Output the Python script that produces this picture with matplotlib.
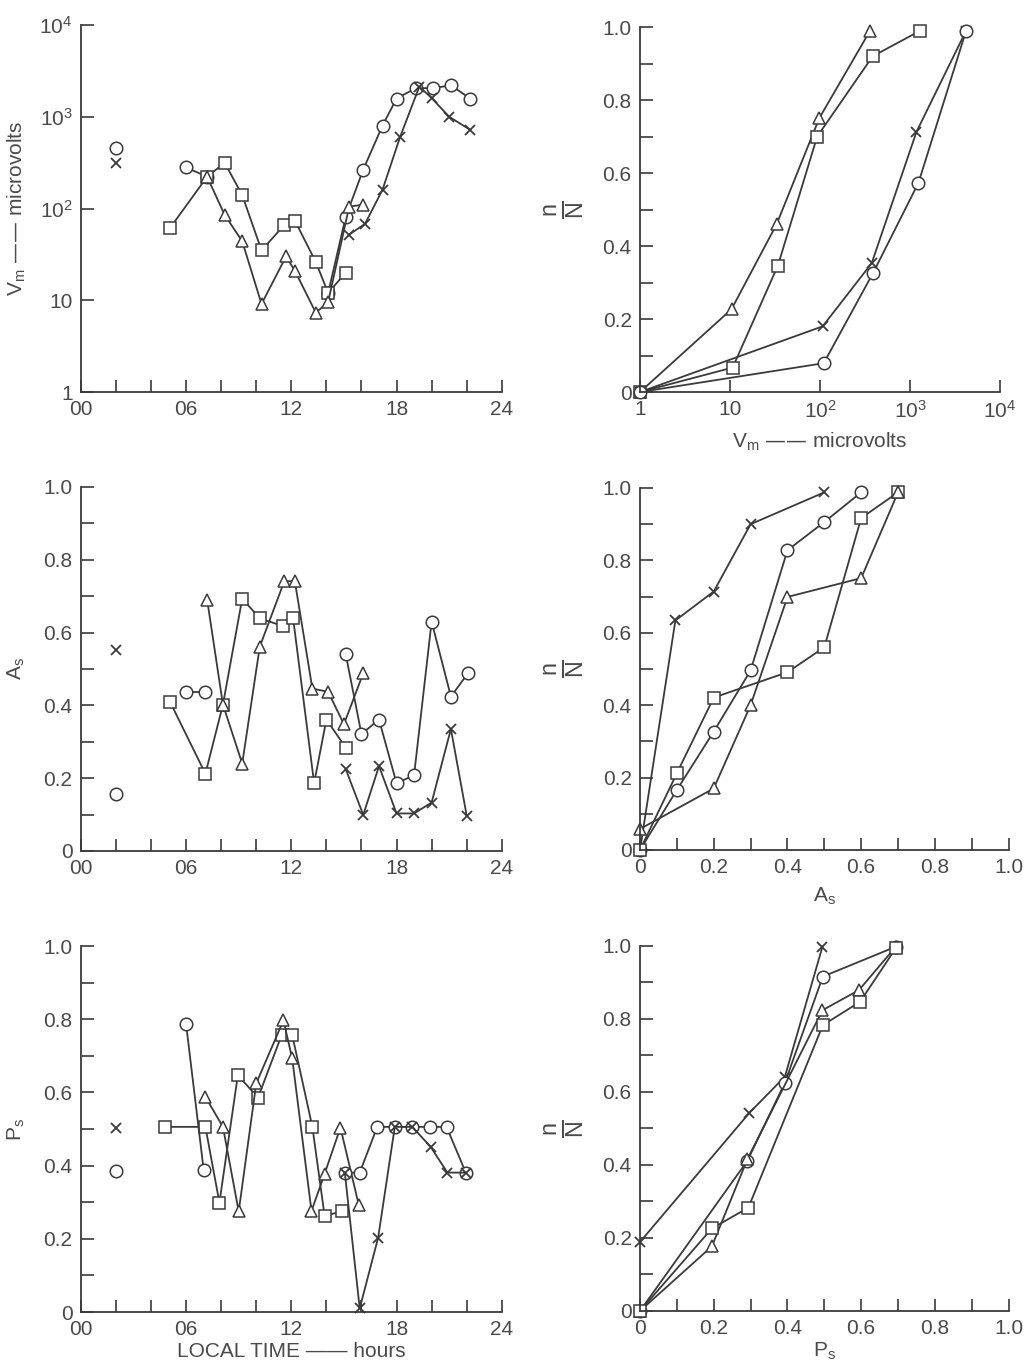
import numpy as np
import matplotlib
matplotlib.use("Agg")
import matplotlib.pyplot as plt

plt.rcParams['font.family'] = ['Liberation Sans', 'DejaVu Sans']
plt.rcParams['mathtext.default'] = 'regular'

INK = '#3a3a3a'
TXT = '#4a4a4a'

# ---------------- data: V_m vs local time ----------------
vm_sq_t = [5.1, 7.2, 8.2, 9.2, 10.3, 11.6, 12.2, 13.4, 14.1, 15.1]
vm_sq = [62, 222, 315, 140, 35, 66, 74, 26, 12, 20]
vm_tri_t = [7.2, 8.2, 9.2, 10.3, 11.7, 12.2, 13.4, 14.1, 15.3, 16.1]
vm_tri = [222, 85, 44, 9.1, 30, 21, 7.3, 9.6, 105, 110]
vm_ci_t1 = [6.0, 7.2]
vm_ci1 = [280, 222]
vm_ci_t2 = [14.1, 15.1, 16.1, 17.2, 18.0, 19.1, 20.1, 21.1, 22.2]
vm_ci2 = [12, 81, 265, 800, 1580, 2050, 2050, 2200, 1580]
vm_x_t = [15.3, 16.2, 17.2, 18.2, 19.3, 20.0, 21.0, 22.2]
vm_x = [52, 68, 160, 600, 2130, 1600, 1000, 720]
vm_iso_ci, vm_iso_x = 460, 315

# cumulative n/N vs V_m
cv_tri_x = [1, 10.4, 33, 98, 360]
cv_tri_y = [0, 0.227, 0.46, 0.75, 0.99]
cv_sq_x = [1, 10.7, 34, 93, 385, 1300]
cv_sq_y = [0, 0.067, 0.346, 0.70, 0.92, 0.99]
cv_x_x = [1, 107, 375, 1180, 4200]
cv_x_y = [0, 0.18, 0.353, 0.713, 0.99]
cv_ci_x = [1, 110, 390, 1240, 4200]
cv_ci_y = [0, 0.079, 0.327, 0.573, 0.99]

# ---------------- data: A_s vs local time ----------------
as_sq_t = [5.1, 7.1, 8.1, 9.2, 10.2, 11.5, 12.1, 13.3, 14.0, 15.1]
as_sq = [0.408, 0.212, 0.402, 0.693, 0.639, 0.618, 0.640, 0.186, 0.361, 0.284]
as_tri_t = [7.2, 8.1, 9.2, 10.2, 11.6, 12.2, 13.2, 14.1, 15.0, 16.1]
as_tri = [0.69, 0.402, 0.24, 0.561, 0.741, 0.741, 0.446, 0.437, 0.348, 0.488]
as_ci_t1 = [6.0, 7.1]
as_ci1 = [0.437, 0.437]
as_ci_t2 = [15.1, 16.0, 17.0, 18.0, 19.0, 20.0, 21.1, 22.1]
as_ci2 = [0.541, 0.321, 0.361, 0.186, 0.208, 0.63, 0.424, 0.49]
as_x_t = [15.1, 16.1, 17.0, 18.0, 19.0, 20.0, 21.1, 22.0]
as_x = [0.225, 0.099, 0.233, 0.103, 0.103, 0.133, 0.335, 0.097]
as_iso_ci, as_iso_x = 0.156, 0.552

# cumulative n/N vs A_s
ca_x_x = [0, 0.096, 0.2, 0.3, 0.5]
ca_x_y = [0, 0.634, 0.714, 0.90, 0.988]
ca_ci_x = [0, 0.1, 0.2, 0.3, 0.4, 0.5, 0.6]
ca_ci_y = [0, 0.166, 0.327, 0.496, 0.828, 0.906, 0.988]
ca_sq_x = [0, 0.1, 0.2, 0.4, 0.5, 0.6, 0.7]
ca_sq_y = [0, 0.212, 0.421, 0.491, 0.56, 0.917, 0.988]
ca_tri_x = [0, 0.2, 0.3, 0.4, 0.6, 0.7]
ca_tri_y = [0.058, 0.17, 0.40, 0.699, 0.751, 0.988]

# ---------------- data: P_s vs local time ----------------
ps_sq_t = [4.8, 7.1, 7.9, 8.95, 10.1, 11.45, 12.05, 13.2, 13.9, 14.9]
ps_sq = [0.506, 0.506, 0.299, 0.647, 0.586, 0.757, 0.757, 0.506, 0.262, 0.276]
ps_tri_t = [7.1, 8.1, 9.0, 10.0, 11.55, 12.05, 13.15, 13.9, 14.8, 15.85]
ps_tri = [0.588, 0.506, 0.275, 0.625, 0.797, 0.693, 0.276, 0.378, 0.504, 0.292]
ps_ci_t1 = [6.0, 7.0]
ps_ci1 = [0.786, 0.389]
ps_ci_t2 = [15.05, 15.9, 16.9, 17.9, 18.9, 19.9, 20.85, 21.95]
ps_ci2 = [0.381, 0.381, 0.506, 0.506, 0.506, 0.506, 0.506, 0.381]
ps_x_t = [15.05, 15.9, 16.95, 17.9, 18.9, 19.95, 20.9, 21.95]
ps_x = [0.381, 0.01, 0.203, 0.506, 0.506, 0.451, 0.381, 0.381]
ps_iso_ci, ps_iso_x = 0.386, 0.504

# cumulative n/N vs P_s
cp_x_x = [0, 0.297, 0.393, 0.495]
cp_x_y = [0.189, 0.543, 0.642, 0.998]
cp_ci_x = [0, 0.291, 0.393, 0.496, 0.694]
cp_ci_y = [0, 0.411, 0.625, 0.916, 0.998]
cp_tri_x = [0, 0.195, 0.291, 0.495, 0.594, 0.694]
cp_tri_y = [0, 0.177, 0.415, 0.824, 0.879, 0.998]
cp_sq_x = [0, 0.195, 0.294, 0.496, 0.597, 0.694]
cp_sq_y = [0, 0.226, 0.283, 0.783, 0.847, 0.994]

hour_ticks = list(range(0, 25, 2))
hour_labels = ['00' if h == 0 else ('%02d' % h if h % 6 == 0 else '') for h in hour_ticks]
frac_ticks = [i / 10 for i in range(11)]
frac_labels = ['0', '', '0.2', '', '0.4', '', '0.6', '', '0.8', '', '1.0']

STY = {
    'o': dict(marker='o', ms=9),
    's': dict(marker='s', ms=9),
    '^': dict(marker='^', ms=9),
    'x': dict(marker='x', ms=7, mew=1.3),
}


def series(ax, x, y, kind, line=True, z=2):
    kw = dict(color=INK, lw=1.3, mfc='white', mec=INK, mew=1.1, clip_on=False, zorder=z)
    kw.update(STY[kind])
    if not line:
        kw['ls'] = 'none'
    ax.plot(x, y, **kw)


def style(ax):
    for s in ('top', 'right'):
        ax.spines[s].set_visible(False)
    for s in ('left', 'bottom'):
        ax.spines[s].set_color(INK)
        ax.spines[s].set_linewidth(1.3)
    ax.tick_params(direction='in', length=9, width=1.2, color=INK,
                   labelcolor=TXT, labelsize=15, pad=6)
    ax.minorticks_off()


def frac_y(ax):
    ax.set_ylim(0, 1)
    ax.set_yticks(frac_ticks)
    ax.set_yticklabels(frac_labels)


def hours_x(ax):
    ax.set_xlim(0, 24)
    ax.set_xticks(hour_ticks)
    ax.set_xticklabels(hour_labels)


def nN(ax):
    ax.set_ylabel(r'$\frac{n}{N}$', fontsize=24, color=TXT, rotation=90, labelpad=12)


fig = plt.figure(figsize=(10.24, 13.65), dpi=100)

L = [0.079, 0.411]
R = [0.625, 0.360]
rows = [(0.7128, 0.2689), (0.3766, 0.2667), (0.0388, 0.2681)]

# ---- top-left ----
ax = fig.add_axes([L[0], rows[0][0], L[1], rows[0][1]])
ax.set_yscale('log')
series(ax, vm_ci_t1, vm_ci1, 'o', z=1.5)
series(ax, vm_ci_t2, vm_ci2, 'o', z=1.5)
series(ax, vm_sq_t, vm_sq, 's')
series(ax, vm_tri_t, vm_tri, '^')
series(ax, vm_x_t, vm_x, 'x')
series(ax, [2], [vm_iso_ci], 'o', line=False)
series(ax, [2], [vm_iso_x], 'x', line=False)
hours_x(ax)
ax.set_ylim(1, 1e4)
ax.set_yticks([1, 10, 100, 1000, 10000])
ax.set_yticklabels(['1', '10', '10$^2$', '10$^3$', '10$^4$'])
style(ax)
ax.set_ylabel('V$_m$ —— microvolts', fontsize=15, color=TXT, labelpad=8)

# ---- top-right ----
ax = fig.add_axes([R[0], rows[0][0], 0.3516, 0.2674])
ax.set_xscale('log')
series(ax, cv_tri_x, cv_tri_y, '^')
series(ax, cv_sq_x, cv_sq_y, 's')
series(ax, cv_x_x, cv_x_y, 'x')
series(ax, cv_ci_x, cv_ci_y, 'o')
ax.set_xlim(1, 1e4)
ax.set_xticks([1, 10, 100, 1000, 10000])
ax.set_xticklabels(['1', '10', '10$^2$', '10$^3$', '10$^4$'])
frac_y(ax)
style(ax)
ax.set_xlabel('V$_m$ —— microvolts', fontsize=15, color=TXT, labelpad=6)
nN(ax)

# ---- middle-left ----
ax = fig.add_axes([L[0], rows[1][0], L[1], rows[1][1]])
series(ax, as_sq_t, as_sq, 's')
series(ax, as_tri_t, as_tri, '^')
series(ax, as_ci_t1, as_ci1, 'o')
series(ax, as_ci_t2, as_ci2, 'o')
series(ax, as_x_t, as_x, 'x')
series(ax, [2], [as_iso_ci], 'o', line=False)
series(ax, [2], [as_iso_x], 'x', line=False)
hours_x(ax)
frac_y(ax)
style(ax)
ax.set_ylabel('A$_s$', fontsize=15, color=TXT, labelpad=12)

# ---- middle-right ----
ax = fig.add_axes([R[0], rows[1][0] + 0.0007, R[1], 0.2652])
series(ax, ca_x_x, ca_x_y, 'x')
series(ax, ca_ci_x, ca_ci_y, 'o')
series(ax, ca_sq_x, ca_sq_y, 's')
series(ax, ca_tri_x, ca_tri_y, '^')
ax.set_xlim(0, 1)
ax.set_xticks(frac_ticks)
ax.set_xticklabels(frac_labels)
frac_y(ax)
style(ax)
ax.set_xlabel('A$_s$', fontsize=15, color=TXT, labelpad=6)
nN(ax)

# ---- bottom-left ----
ax = fig.add_axes([L[0], rows[2][0], L[1], rows[2][1]])
series(ax, ps_sq_t, ps_sq, 's')
series(ax, ps_tri_t, ps_tri, '^')
series(ax, ps_ci_t1, ps_ci1, 'o')
series(ax, ps_ci_t2, ps_ci2, 'o')
series(ax, ps_x_t, ps_x, 'x')
series(ax, [2], [ps_iso_ci], 'o', line=False)
series(ax, [2], [ps_iso_x], 'x', line=False)
hours_x(ax)
frac_y(ax)
style(ax)
ax.set_ylabel('P$_s$', fontsize=15, color=TXT, labelpad=12)
ax.set_xlabel('LOCAL TIME —— hours', fontsize=15, color=TXT, labelpad=2)

# ---- bottom-right ----
ax = fig.add_axes([R[0], rows[2][0] + 0.0008, R[1], 0.2674])
series(ax, cp_x_x, cp_x_y, 'x')
series(ax, cp_ci_x, cp_ci_y, 'o')
series(ax, cp_tri_x, cp_tri_y, '^')
series(ax, cp_sq_x, cp_sq_y, 's')
ax.set_xlim(0, 1)
ax.set_xticks(frac_ticks)
ax.set_xticklabels(frac_labels)
frac_y(ax)
style(ax)
ax.set_xlabel('P$_s$', fontsize=15, color=TXT, labelpad=2)
nN(ax)

fig.savefig('out.png', dpi=100)
